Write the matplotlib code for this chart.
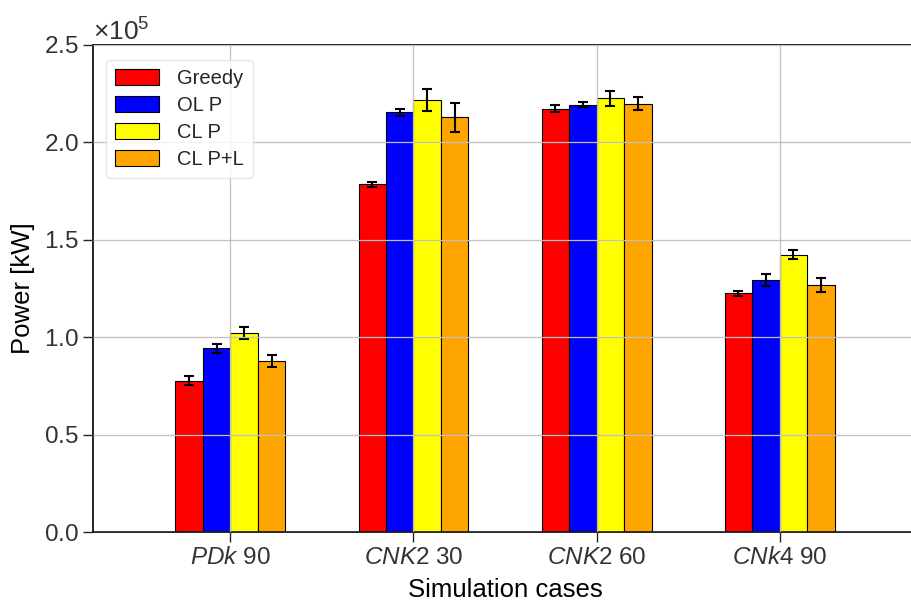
import numpy as np
import matplotlib
matplotlib.use("Agg")
import matplotlib.pyplot as plt
import seaborn as sns

sns.set_style("ticks")
plt.rcParams['font.family'] = ['Liberation Sans', 'DejaVu Sans']
plt.rcParams['mathtext.fontset'] = 'custom'
plt.rcParams['mathtext.it'] = 'Liberation Sans:italic'
plt.rcParams['mathtext.rm'] = 'Liberation Sans'

cases = [r'$PDk$ 90', r'$CNK$2 30', r'$CNK$2 60', r'$CNk$4 90']
methods = ['Greedy', 'OL P', 'CL P', 'CL P+L']
colors = ['red', 'blue', 'yellow', 'orange']

# mean power [kW] per method, one value per case
greedy = [0.777e5, 1.784e5, 2.173e5, 1.225e5]
ol_p = [0.942e5, 2.154e5, 2.194e5, 1.292e5]
cl_p = [1.022e5, 2.217e5, 2.226e5, 1.424e5]
cl_pl = [0.878e5, 2.129e5, 2.199e5, 1.268e5]

# standard deviations
greedy_err = [0.022e5, 0.013e5, 0.019e5, 0.0145e5]
ol_p_err = [0.021e5, 0.019e5, 0.0145e5, 0.031e5]
cl_p_err = [0.030e5, 0.057e5, 0.038e5, 0.023e5]
cl_pl_err = [0.031e5, 0.075e5, 0.034e5, 0.035e5]

means = [greedy, ol_p, cl_p, cl_pl]
errs = [greedy_err, ol_p_err, cl_p_err, cl_pl_err]

fig = plt.figure(figsize=(9.12, 6.04), dpi=100)
ax = fig.add_axes([0.102, 0.1192, 0.9035, 0.8063])

x = np.arange(len(cases))
width = 0.15
for i, (m, e, c, lab) in enumerate(zip(means, errs, colors, methods)):
    ax.bar(x + (i - 1.5) * width, m, width, yerr=e, color=c, edgecolor='black',
           linewidth=0.8, label=lab,
           error_kw=dict(ecolor='black', elinewidth=1.5, capsize=3.5, capthick=1.5))

ax.set_xlim(-0.75, 3.75)
ax.set_ylim(0, 2.5e5)
ax.set_xticks(x)
ax.set_xticklabels(cases)
ax.ticklabel_format(axis='y', style='sci', scilimits=(0, 0), useMathText=True)
ax.yaxis.get_offset_text().set_fontsize(19)
ax.yaxis.get_offset_text().set_color('#333333')

ax.grid(True, color='#c0c0c0', linewidth=0.9)
ax.set_axisbelow(False)

ax.tick_params(axis='both', labelsize=17.5, colors='#262626', length=7, width=1)
ax.tick_params(axis='both', labelcolor='#333333')
for s in ax.spines.values():
    s.set_color('black')
    s.set_linewidth(1.2)

ax.set_xlabel('Simulation cases', fontsize=18.5, color='black', labelpad=7)
ax.set_ylabel('Power [kW]', fontsize=18.5, color='black', labelpad=6)

leg = ax.legend(loc='upper left', fontsize=14.5, frameon=True, fancybox=True,
                framealpha=0.8, handlelength=2.2, handleheight=0.85,
                borderpad=0.45, labelspacing=0.4, handletextpad=0.9,
                bbox_to_anchor=(0.003, 0.99))
leg.get_frame().set_edgecolor('#e0e0e0')

fig.savefig('out.png', dpi=100)
